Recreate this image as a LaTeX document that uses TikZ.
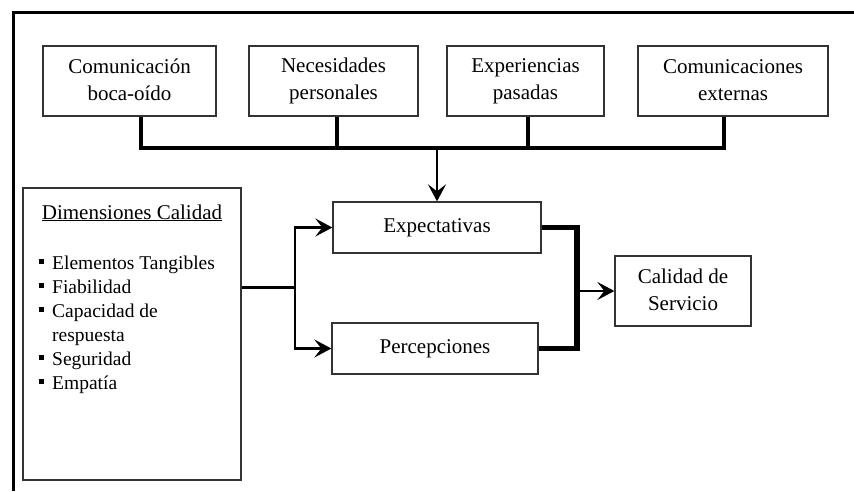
\documentclass[tikz,border=0pt]{standalone}
\usepackage{fontspec}
\setmainfont{Liberation Serif}
\usetikzlibrary{arrows.meta}
\newcommand\mytopstrut{\rule{0pt}{14pt}}
\newcommand\mybotstrut{\rule[-3pt]{0pt}{3pt}}
\newcommand\mybullet{\makebox[13pt][l]{\rule[5pt]{5pt}{5pt}}}
\begin{document}
\begin{tikzpicture}[x=1pt,y=-1pt,
  box/.style={draw=black!80, line width=1.3pt, inner sep=0pt, align=center,
    font=\fontsize{21}{27}\selectfont},
  item/.style={anchor=base west, inner sep=0pt, font=\fontsize{19.5}{24}\selectfont},
  busline/.style={line width=3.5pt, line join=miter},
  arr/.style={line width=2.6pt, -{Stealth[length=17pt,width=18pt,inset=7pt]}},
  heavy/.style={line width=5.5pt, line join=miter}]
\useasboundingbox (0,0) rectangle (854,491);
% frame
\draw[line width=3pt] (13,491) -- (13,12) -- (854,12);
% top boxes
\node[box, minimum width=173pt, minimum height=70pt] (b1) at (129.5,81) {\mytopstrut Comunicación\\boca-oído\mybotstrut};
\node[box, minimum width=169pt, minimum height=70pt] (b2) at (333.5,81) {\mytopstrut Necesidades\\personales\mybotstrut};
\node[box, minimum width=157pt, minimum height=70pt] (b3) at (525.5,81) {\mytopstrut Experiencias\\pasadas\mybotstrut};
\node[box, minimum width=190pt, minimum height=70pt] (b4) at (733,81) {\mytopstrut Comunicaciones\\externas\mybotstrut};
% middle boxes
\node[box, minimum width=208pt, minimum height=51pt] (exp) at (437,227.5) {Expectativas};
\node[box, minimum width=206pt, minimum height=51pt] (per) at (435,348.5) {Percepciones};
\node[box, minimum width=136pt, minimum height=70pt] (cal) at (683,291) {\mytopstrut Calidad de\\Servicio\mybotstrut};
% dimensiones box
\node[box, minimum width=218pt, minimum height=292pt] (dim) at (132,334) {};
\node[anchor=base, inner sep=0pt, font=\fontsize{21}{27}\selectfont] (title) at (132,219) {\underline{Dimensiones Calidad}};
\node[item] (li1) at (39,269) {\mybullet Elementos Tangibles};
\node[item] (li2) at (39,293) {\mybullet Fiabilidad};
\node[item] (li3) at (39,317) {\mybullet Capacidad de};
\node[item] (li4) at (52,341) {respuesta};
\node[item] (li5) at (39,365) {\mybullet Seguridad};
\node[item] (li6) at (39,389) {\mybullet Empatía};
% top bus
\coordinate (t1) at (141,148);
\coordinate (t2) at (337,148);
\coordinate (t3) at (528,148);
\coordinate (t4) at (724,148);
\coordinate (tm) at (437,148);
\draw[busline] (b1.south -| t1) -- (t1) -- (t4) -- (b4.south -| t4);
\draw[busline] (b2.south -| t2) -- (t2);
\draw[busline] (b3.south -| t3) -- (t3);
\draw[arr] (tm) -- (exp.north);
% left connector
\coordinate (jl) at (295,287);
\draw[line width=3pt] (dim.east |- jl) -- (jl);
\draw[arr] (jl) |- (exp.west);
\draw[arr] (jl) |- (per.west);
% right connector
\coordinate (jr) at (577,291);
\draw[heavy] (exp.east) -| (jr) |- (per.east);
\draw[arr] (jr) -- (cal.west);
\end{tikzpicture}
\end{document}
